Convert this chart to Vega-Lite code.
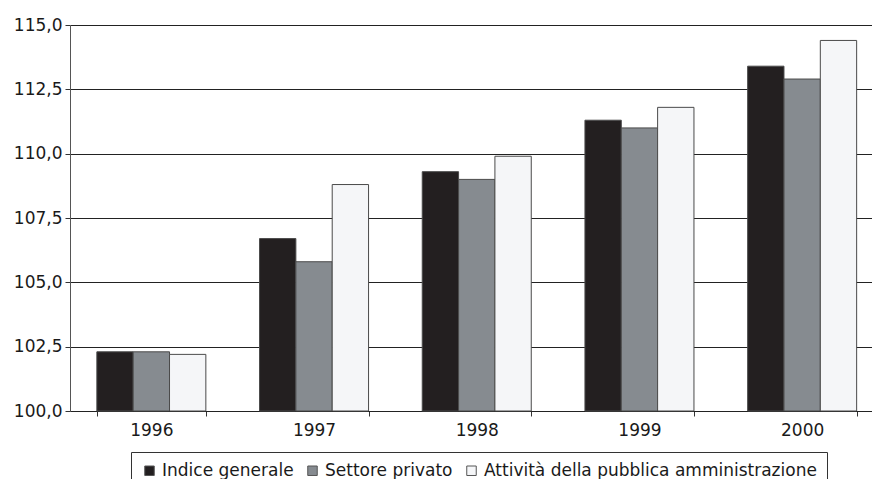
{
  "$schema": "https://vega.github.io/schema/vega-lite/v6.json",
  "width": 802,
  "height": 386,
  "autosize": {"type": "none"},
  "padding": {"left": 70, "top": 25, "right": 0, "bottom": 68},
  "background": "white",
  "config": {
    "view": {"stroke": null},
    "font": "DejaVu Sans",
    "axis": {"labelFont": "DejaVu Sans", "labelFontSize": 17, "labelColor": "#1a1a1a"},
    "legend": {"labelFont": "DejaVu Sans", "labelFontSize": 17, "labelColor": "#1a1a1a"}
  },
  "data": {
    "values": [
      {"anno": "1996", "serie": "Indice generale", "valore": 102.3},
      {"anno": "1996", "serie": "Settore privato", "valore": 102.3},
      {"anno": "1996", "serie": "Attività della pubblica amministrazione", "valore": 102.2},
      {"anno": "1997", "serie": "Indice generale", "valore": 106.7},
      {"anno": "1997", "serie": "Settore privato", "valore": 105.8},
      {"anno": "1997", "serie": "Attività della pubblica amministrazione", "valore": 108.8},
      {"anno": "1998", "serie": "Indice generale", "valore": 109.3},
      {"anno": "1998", "serie": "Settore privato", "valore": 109.0},
      {"anno": "1998", "serie": "Attività della pubblica amministrazione", "valore": 109.9},
      {"anno": "1999", "serie": "Indice generale", "valore": 111.3},
      {"anno": "1999", "serie": "Settore privato", "valore": 111.0},
      {"anno": "1999", "serie": "Attività della pubblica amministrazione", "valore": 111.8},
      {"anno": "2000", "serie": "Indice generale", "valore": 113.4},
      {"anno": "2000", "serie": "Settore privato", "valore": 112.9},
      {"anno": "2000", "serie": "Attività della pubblica amministrazione", "valore": 114.4}
    ]
  },
  "mark": {"type": "bar", "stroke": "#4a4a4a", "strokeWidth": 1},
  "encoding": {
    "x": {
      "field": "anno",
      "type": "nominal",
      "title": null,
      "scale": {"range": [0, 813.5], "paddingInner": 0.33, "paddingOuter": 0.165},
      "axis": {
        "labelAngle": 0,
        "tickBand": "extent",
        "tickSize": 5,
        "tickColor": "#333",
        "domainColor": "#222",
        "labelPadding": 6,
        "grid": false
      }
    },
    "xOffset": {
      "field": "serie",
      "type": "nominal",
      "scale": {"domain": ["Indice generale", "Settore privato", "Attività della pubblica amministrazione"]}
    },
    "y": {
      "field": "valore",
      "type": "quantitative",
      "title": null,
      "scale": {"domain": [100, 115], "zero": false, "nice": false},
      "axis": {
        "values": [100, 102.5, 105, 107.5, 110, 112.5, 115],
        "labelExpr": "replace(format(datum.value, '.1f'), '.', ',')",
        "tickSize": 5,
        "tickColor": "#333",
        "domainColor": "#555",
        "labelPadding": 3,
        "grid": true,
        "gridColor": "#222",
        "gridOpacity": 1,
        "gridWidth": 1
      }
    },
    "y2": {"datum": 100},
    "color": {
      "field": "serie",
      "type": "nominal",
      "title": null,
      "scale": {
        "domain": ["Indice generale", "Settore privato", "Attività della pubblica amministrazione"],
        "range": ["#231f20", "#868b90", "#f5f6f8"]
      },
      "legend": {
        "orient": "none",
        "direction": "horizontal",
        "legendX": 61,
        "legendY": 427,
        "symbolType": "square",
        "symbolSize": 90,
        "symbolStrokeColor": "#555",
        "symbolStrokeWidth": 1,
        "labelOffset": 4,
        "labelLimit": 0,
        "columnPadding": 10,
        "padding": 10,
        "strokeColor": "#333",
        "fillColor": "white"
      }
    }
  }
}
